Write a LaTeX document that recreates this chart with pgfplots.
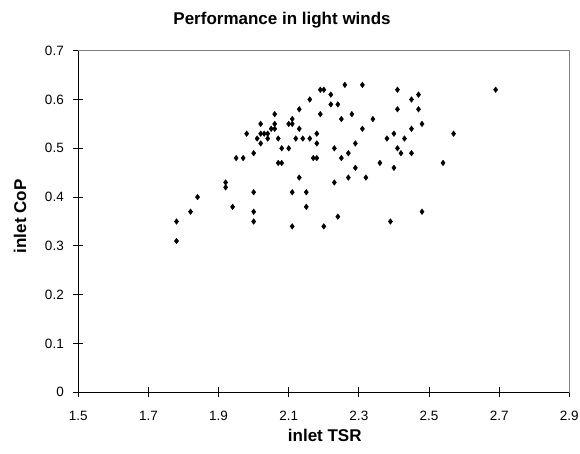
\documentclass[border=0pt]{standalone}
\usepackage{fontspec}
\setmainfont{Liberation Sans}
\usepackage{pgfplots}
\pgfplotsset{compat=1.18}
\definecolor{framegray}{RGB}{128,128,128}
\begin{document}
\begin{tikzpicture}
\path[use as bounding box] (-78.3pt,-61.7pt) rectangle (501.7pt,392.3pt);
\begin{axis}[
  at={(0pt,0pt)}, anchor=south west,
  scale only axis, width=491pt, height=341.6pt,
  xmin=1.5, xmax=2.9, ymin=0, ymax=0.7,
  xtick={1.5,1.7,1.9,2.1,2.3,2.5,2.7,2.9},
  ytick={0,0.1,0.2,0.3,0.4,0.5,0.6,0.7},
  tick align=center, major tick length=10pt, tick pos=left,
  axis line style={framegray, line width=0.8pt},
  tick style={black, line width=0.8pt},
  ticklabel style={font=\fontsize{13.5}{16}\selectfont},
  xticklabel style={yshift=-10pt},
  yticklabel style={xshift=-6pt},
  /pgf/number format/assume math mode=true,
  /pgf/number format/.cd, fixed, precision=1, /pgfplots/.cd,
  clip=false,
]
\addplot[only marks, mark=diamond*, mark size=2.8pt, black] coordinates {
(2.06,0.57)(2.02,0.55)(2.06,0.55)(2.05,0.54)(2.06,0.54)(1.98,0.53)(2.02,0.53)(2.03,0.53)(2.04,0.53)
(2.01,0.52)(2.04,0.52)(2.07,0.52)(2.02,0.51)(2.00,0.49)(1.95,0.48)(1.97,0.48)(2.07,0.47)
(1.92,0.43)(1.92,0.42)(1.84,0.40)(2.00,0.41)(1.94,0.38)(1.82,0.37)(2.00,0.37)(1.78,0.35)(2.00,0.35)(1.78,0.31)
(2.26,0.63)(2.31,0.63)(2.19,0.62)(2.20,0.62)(2.41,0.62)(2.22,0.61)(2.47,0.61)(2.16,0.60)(2.45,0.60)
(2.22,0.59)(2.24,0.59)(2.13,0.58)(2.41,0.58)(2.47,0.58)(2.19,0.57)(2.28,0.57)(2.25,0.56)(2.34,0.56)
(2.11,0.56)(2.10,0.55)(2.11,0.55)(2.13,0.54)(2.31,0.54)(2.45,0.54)(2.18,0.53)(2.40,0.53)(2.12,0.52)
(2.14,0.52)(2.16,0.52)(2.38,0.52)(2.43,0.52)(2.18,0.51)(2.29,0.51)(2.08,0.50)(2.10,0.50)(2.23,0.50)
(2.41,0.50)(2.27,0.49)(2.42,0.49)(2.45,0.49)(2.25,0.48)(2.17,0.48)(2.18,0.48)(2.08,0.47)(2.36,0.47)
(2.29,0.46)(2.40,0.46)(2.13,0.44)(2.27,0.44)(2.32,0.44)
(2.23,0.43)(2.11,0.41)(2.15,0.41)(2.15,0.38)(2.24,0.36)(2.11,0.34)(2.20,0.34)(2.39,0.35)
(2.69,0.62)(2.48,0.55)(2.57,0.53)(2.54,0.47)(2.48,0.37)
};
\draw[black, line width=0.8pt] (rel axis cs:0,1) -- (rel axis cs:0,0) -- (rel axis cs:1,0);
\node[anchor=base, font=\bfseries\fontsize{17}{20}\selectfont] at ([yshift=26pt]rel axis cs:0.415,1) {Performance in light winds};
\node[anchor=base, font=\bfseries\fontsize{17}{20}\selectfont] at ([yshift=-49pt]rel axis cs:0.502,0) {inlet TSR};
\node[anchor=center, rotate=90, font=\bfseries\fontsize{17}{20}\selectfont] at ([xshift=-58.3pt]rel axis cs:0,0.515) {inlet CoP};
\end{axis}
\end{tikzpicture}
\end{document}
